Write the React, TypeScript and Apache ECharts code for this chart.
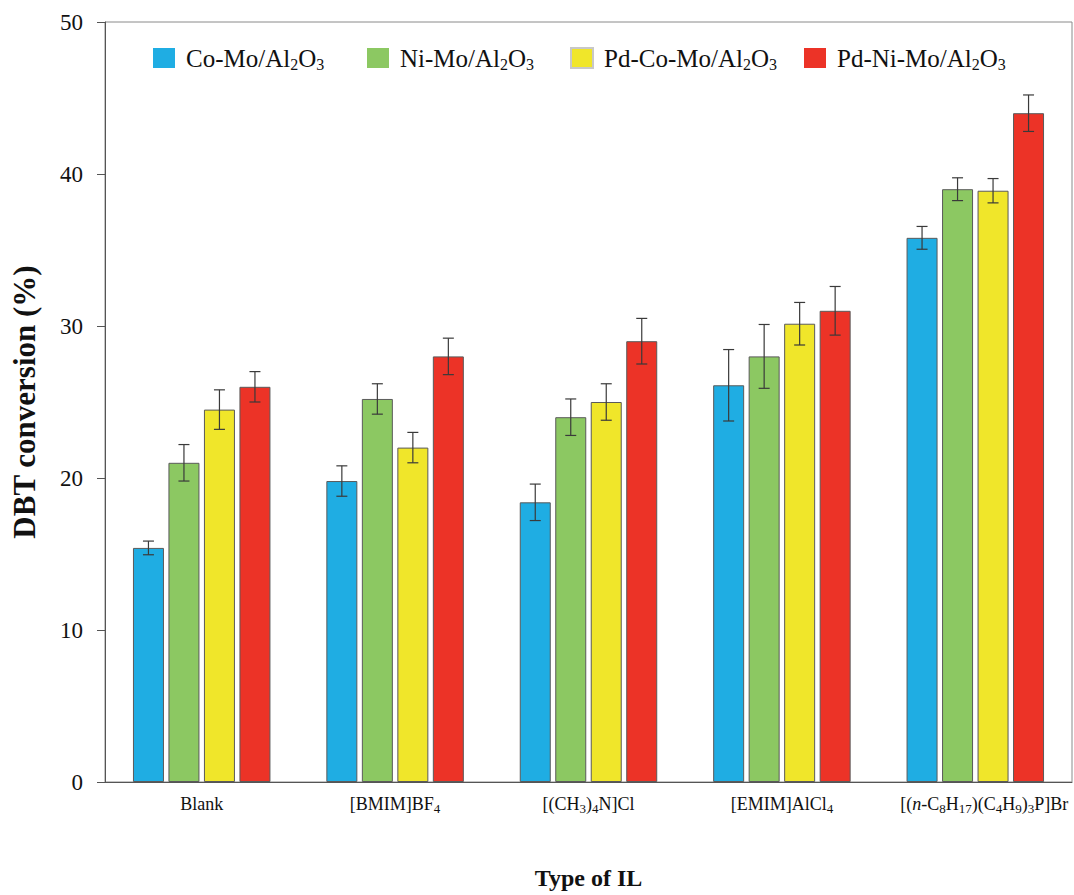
import React, { useEffect, useRef } from 'react';
import * as echarts from 'echarts';

const categories = ['Blank', '[BMIM]BF4', '[(CH3)4N]Cl', '[EMIM]AlCl4', '[(n-C8H17)(C4H9)3P]Br'];
const categoryRich = [
  'Blank',
  '[BMIM]BF{s|4}',
  '[(CH{s|3}){s|4}N]Cl',
  '[EMIM]AlCl{s|4}',
  '{p|}[({i|n}-C{s|8}H{s|17})(C{s|4}H{s|9}){s|3}P]Br',
];
const seriesNames = ['Co-Mo/Al2O3', 'Ni-Mo/Al2O3', 'Pd-Co-Mo/Al2O3', 'Pd-Ni-Mo/Al2O3'];
const seriesRich = [
  'Co-Mo/Al{s|2}O{s|3}',
  'Ni-Mo/Al{s|2}O{s|3}',
  'Pd-Co-Mo/Al{s|2}O{s|3}',
  'Pd-Ni-Mo/Al{s|2}O{s|3}',
];
const coMo = [15.4, 19.8, 18.4, 26.1, 35.8];
const coMoErr = [0.45, 1.0, 1.2, 2.35, 0.75];
const niMo = [21.0, 25.2, 24.0, 28.0, 39.0];
const niMoErr = [1.2, 1.0, 1.2, 2.1, 0.75];
const pdCoMo = [24.5, 22.0, 25.0, 30.15, 38.9];
const pdCoMoErr = [1.3, 1.0, 1.2, 1.4, 0.8];
const pdNiMo = [26.0, 28.0, 29.0, 31.0, 44.0];
const pdNiMoErr = [1.0, 1.2, 1.5, 1.6, 1.2];

const values = [coMo, niMo, pdCoMo, pdNiMo];
const errors = [coMoErr, niMoErr, pdCoMoErr, pdNiMoErr];
const colors = ['#1fade3', '#8cc862', '#f0e62a', '#ec3327'];
const legendLefts = [153, 367, 570, 804];

const FONT = "'Liberation Serif', serif";
const BAR_W = 31;
const BAR_GAP = 4.5;

export default function App() {
  const ref = useRef<HTMLDivElement>(null);
  useEffect(() => {
    if (!ref.current) return;
    const chart = echarts.init(ref.current, undefined, { renderer: 'svg' });
    const barSeries = seriesNames.map((name, i) => ({
      name,
      type: 'bar',
      data: values[i],
      barWidth: BAR_W,
      barGap: (BAR_GAP / BAR_W * 100).toFixed(1) + '%',
      itemStyle: { color: colors[i], borderColor: '#5a5a5a', borderWidth: 1 },
      z: 2,
    }));
    const errSeries = seriesNames.map((name, i) => ({
      name: name + ' error',
      type: 'custom',
      z: 5,
      encode: { x: 0, y: [1, 2] },
      data: values[i].map((v, k) => [k, v - errors[i][k], v + errors[i][k]]),
      renderItem: (params: any, api: any) => {
        const x = api.value(0);
        const lo = api.coord([x, api.value(1)]);
        const hi = api.coord([x, api.value(2)]);
        const cx = lo[0] + (i - 1.5) * (BAR_W + BAR_GAP);
        const cap = 5.5;
        const st = { stroke: '#3a3a3a', lineWidth: 1.2 };
        return {
          type: 'group',
          children: [
            { type: 'line', shape: { x1: cx, y1: hi[1], x2: cx, y2: lo[1] }, style: st },
            { type: 'line', shape: { x1: cx - cap, y1: hi[1], x2: cx + cap, y2: hi[1] }, style: st },
            { type: 'line', shape: { x1: cx - cap, y1: lo[1], x2: cx + cap, y2: lo[1] }, style: st },
          ],
        };
      },
    }));
    const legends = seriesNames.map((name, i) => ({
      data: [
        {
          name,
          itemStyle: i === 2 ? { borderColor: '#c8c8c8', borderWidth: 2 } : { borderWidth: 0 },
        },
      ],
      left: legendLefts[i],
      top: 44,
      padding: 0,
      icon: 'rect',
      itemWidth: 22,
      itemHeight: 20,
      selectedMode: false,
      formatter: () => '{g|}' + seriesRich[i],
      textStyle: {
        fontFamily: FONT,
        fontSize: 25,
        color: '#111',
        lineHeight: 28,
        rich: {
          g: { width: 6 },
          s: { fontSize: 16, lineHeight: 16, verticalAlign: 'bottom', fontFamily: FONT, color: '#111' },
        },
      },
    }));
    chart.setOption({
      animation: false,
      backgroundColor: '#ffffff',
      textStyle: { fontFamily: FONT },
      legend: legends,
      grid: {
        left: 105,
        right: 2,
        top: 22,
        bottom: 108,
        show: true,
        borderColor: '#8a8a8a',
        borderWidth: 1,
      },
      xAxis: {
        type: 'category',
        data: categories,
        axisTick: { show: false },
        axisLine: { lineStyle: { color: '#555', width: 1 } },
        axisLabel: {
          interval: 0,
          margin: 11,
          fontFamily: FONT,
          fontSize: 18,
          color: '#111',
          lineHeight: 22,
          formatter: (_v: string, idx: number) => categoryRich[idx],
          rich: {
            p: { width: 18 },
            s: { fontSize: 13, lineHeight: 12, verticalAlign: 'bottom', fontFamily: FONT, color: '#111' },
            i: { fontSize: 18, fontStyle: 'italic', fontFamily: FONT, color: '#111', lineHeight: 22 },
          },
        },
        name: 'Type of IL',
        nameLocation: 'middle',
        nameGap: 84,
        nameTextStyle: { fontFamily: FONT, fontSize: 24, fontWeight: 'bold', color: '#111' },
      },
      yAxis: {
        type: 'value',
        min: 0,
        max: 50,
        interval: 10,
        splitLine: { show: false },
        axisLine: { show: true, lineStyle: { color: '#555', width: 1 } },
        axisTick: { show: true, inside: false, length: 8, lineStyle: { color: '#555' } },
        axisLabel: { margin: 22, fontFamily: FONT, fontSize: 23, color: '#111' },
        name: 'DBT conversion (%)',
        nameLocation: 'middle',
        nameGap: 65,
        nameTextStyle: { fontFamily: FONT, fontSize: 31, fontWeight: 'bold', color: '#111' },
      },
      series: [...barSeries, ...errSeries],
    });
    return () => chart.dispose();
  }, []);
  return (
    <div
      ref={ref}
      style={{ position: 'fixed', left: 0, top: 0, width: 1074, height: 895, background: '#fff', overflow: 'hidden' }}
    />
  );
}
